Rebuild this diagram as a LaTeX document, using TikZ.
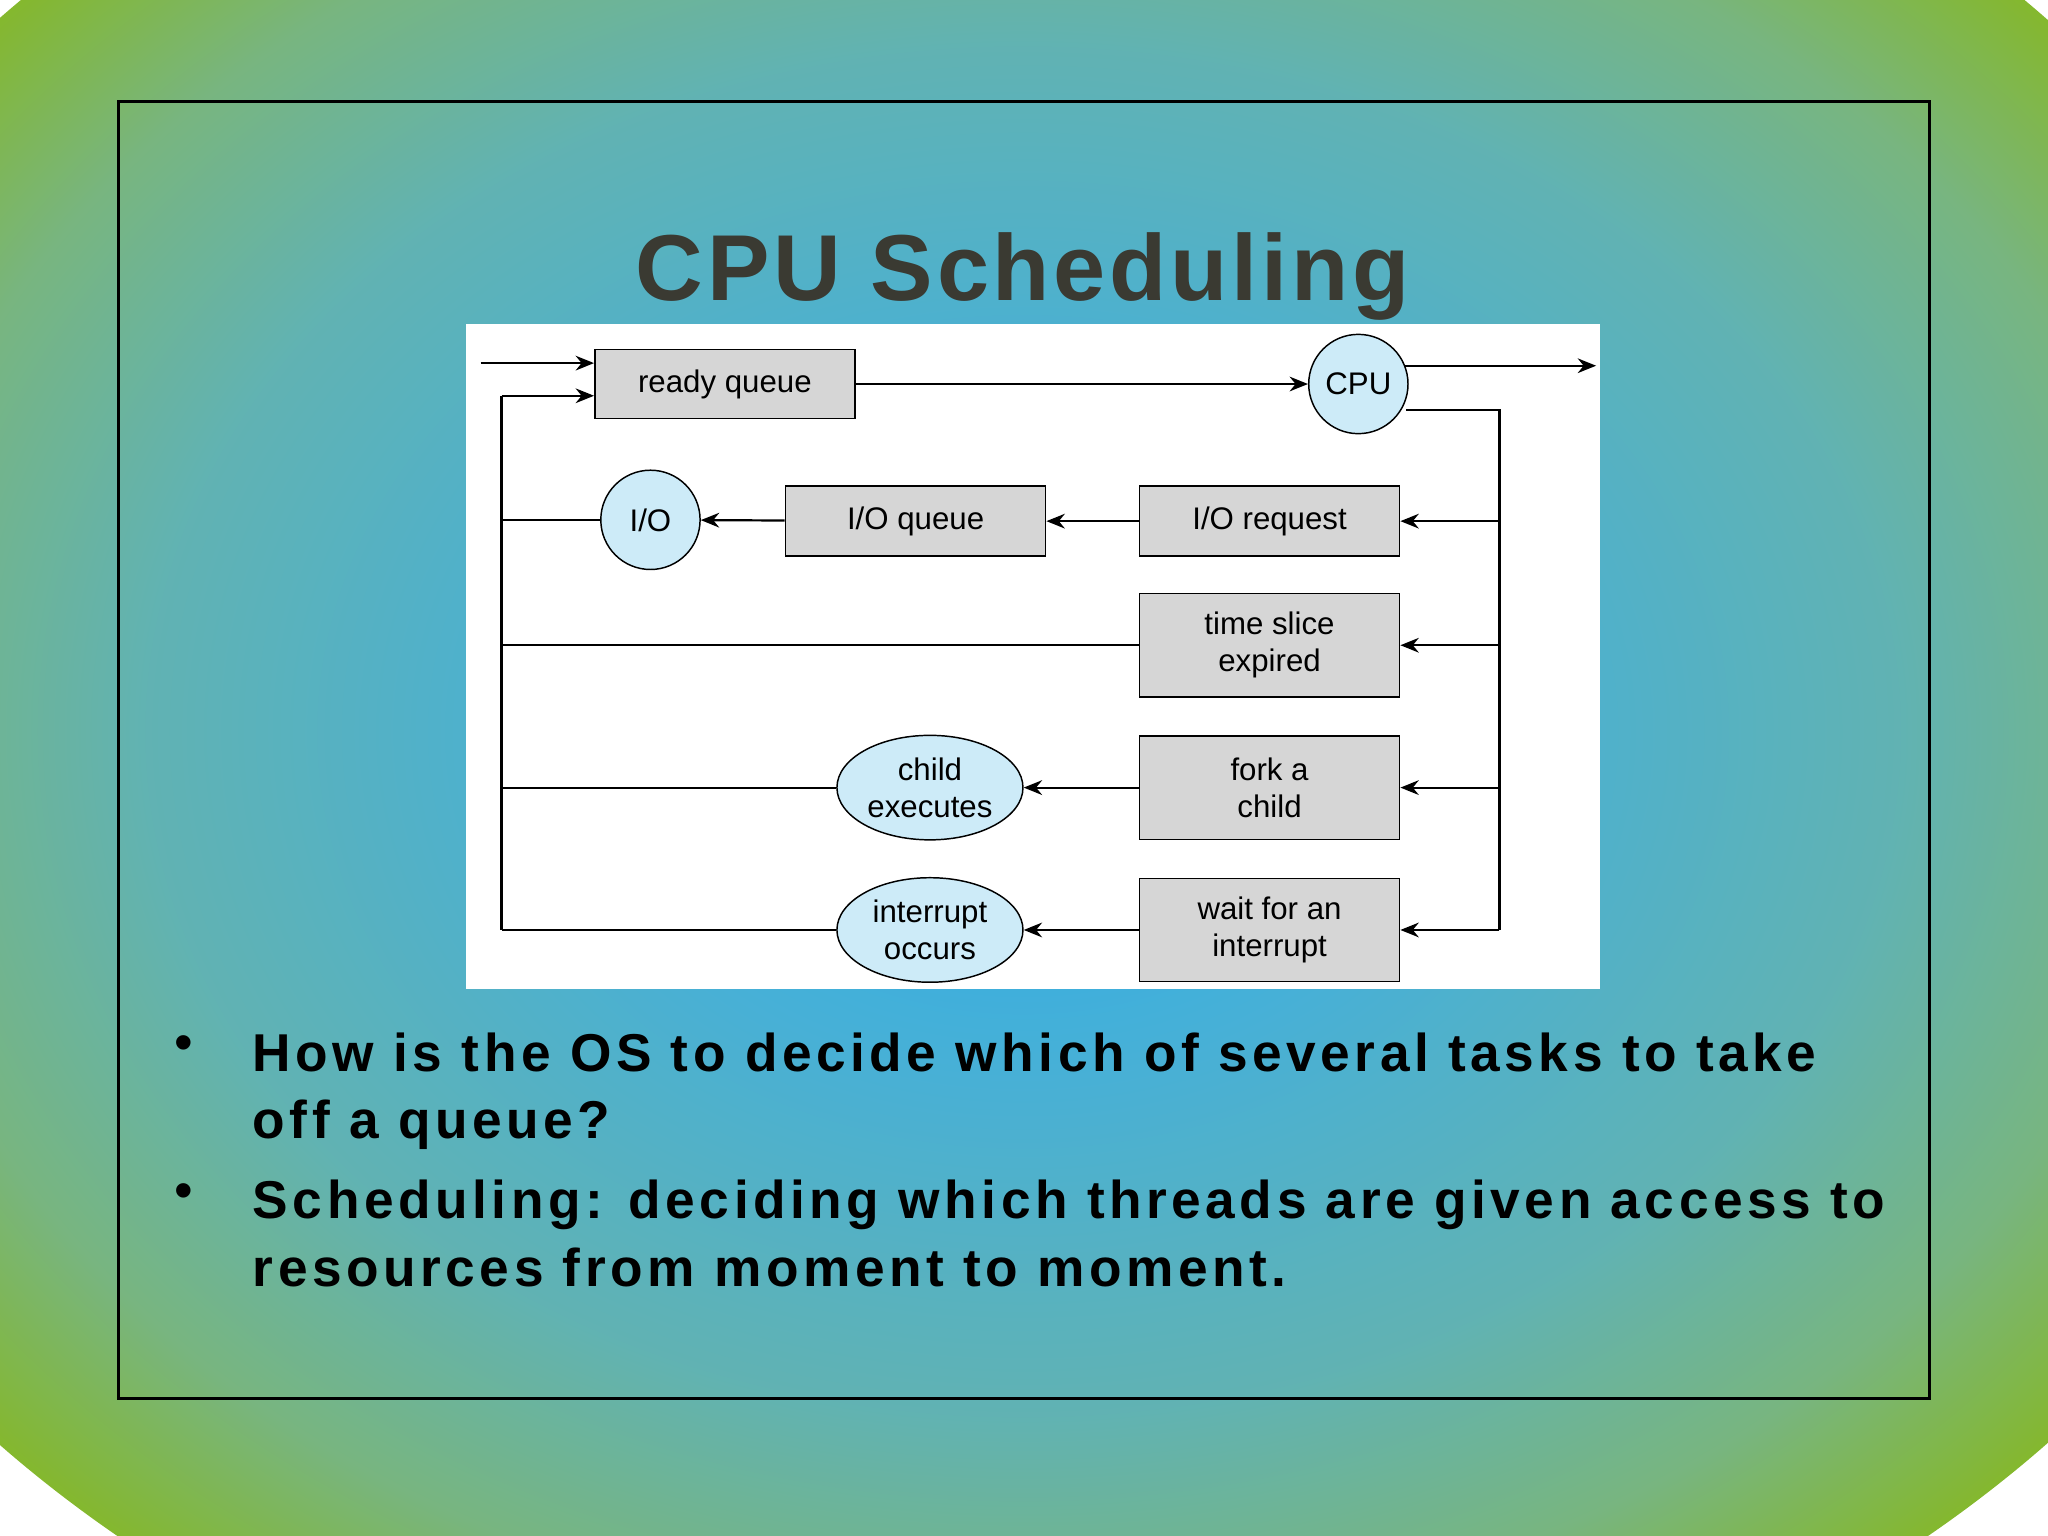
\documentclass[tikz,border=0pt]{standalone}
\usepackage{fontspec}
\setmainfont{Liberation Sans}
\usetikzlibrary{shapes.geometric,arrows.meta}
\definecolor{boxgray}{HTML}{D6D6D6}
\definecolor{bubble}{HTML}{CDEBF8}
\definecolor{titlegray}{HTML}{3A3A32}
\pgfdeclareradialshading{slideglow}{\pgfpoint{0bp}{0bp}}{%
  rgb(0bp)=(0.16,0.68,0.92);
  rgb(8bp)=(0.28,0.69,0.84);
  rgb(16bp)=(0.38,0.70,0.70);
  rgb(21bp)=(0.47,0.71,0.50);
  rgb(25bp)=(0.52,0.72,0.18);
  rgb(50bp)=(0.52,0.72,0.18)}
\tikzset{
  qbox/.style={draw, fill=boxgray, minimum width=2.49cm, align=center,
    font=\fontsize{8.5}{10}\selectfont},
  qcircle/.style={draw, circle, fill=bubble, minimum size=0.95cm, inner sep=0pt,
    font=\fontsize{8.5}{10}\selectfont},
  qellipse/.style={draw, ellipse, fill=bubble, minimum width=1.78cm, minimum height=1cm,
    inner sep=0pt, align=center, font=\fontsize{8.5}{10}\selectfont},
  flow/.style={-{Stealth[length=5pt,width=4pt]}, line width=0.6pt},
  plain/.style={line width=0.6pt},
  bullettext/.style={anchor=base west, inner sep=0pt,
    font=\fontsize{14.5}{17}\bfseries\addfontfeatures{LetterSpace=8.5}}
}
\begin{document}
\begin{tikzpicture}[x=0.0125cm, y=-0.0125cm]
  % background and frame
  \useasboundingbox (0,0) rectangle (1568,1176);
  \begin{scope}
    \clip (0,0) rectangle (1568,1176);
    \shade[shading=slideglow] (783,560) ellipse [x radius=1050, y radius=820];
  \end{scope}
  \draw[line width=0.8pt] (91,78) rectangle (1477,1071);
  \node (title) [text=titlegray, font=\fontsize{25.5}{30}\bfseries\addfontfeatures{LetterSpace=4}]
    at (783,212) {CPU Scheduling};
  \fill[white] (357,248) rectangle (1225,757);

  % queue boxes
  \node (readyQueue) [qbox, minimum height=0.66cm] at (555,294) {ready queue};
  \node (ioQueue) [qbox, minimum height=0.67cm] at (701,399) {I/O queue};
  \node (ioRequest) [qbox, minimum height=0.67cm] at (972,399) {I/O request};
  \node (timeSlice) [qbox, minimum height=0.99cm] at (972,494) {time slice\\expired};
  \node (forkChild) [qbox, minimum height=0.99cm] at (972,603) {fork a\\child};
  \node (waitInt) [qbox, minimum height=0.99cm] at (972,712) {wait for an\\interrupt};
  % devices and events
  \node (cpu) [qcircle] at (1040,294) {CPU};
  \node (io) [qcircle] at (498,398) {I/O};
  \node (childExec) [qellipse] at (712,603) {child\\executes};
  \node (intOccurs) [qellipse] at (712,712) {interrupt\\occurs};

  % connection points
  \coordinate (inStart) at (368,278);
  \coordinate (loopTop) at (384,303);
  \coordinate (loopBottom) at (384,712);
  \coordinate (cpuOut) at (1222,280);
  \coordinate (rightTop) at (1148,314);
  \coordinate (rightBottom) at (1148,712);

  \draw[flow] (inStart) -- (inStart -| readyQueue.west);
  \draw[flow] (loopTop) -- (loopTop -| readyQueue.west);
  \draw[plain] (loopTop) -- (loopBottom);
  \draw[flow] (readyQueue) -- (cpu);
  \draw[flow] (cpuOut -| cpu.east) ++(-3,0) -- (cpuOut);
  \draw[plain] (rightTop -| cpu.east) ++(-2,0) -- (rightTop) -- (rightBottom);

  \draw[flow] (rightTop |- ioRequest) -- (ioRequest);
  \draw[flow] (rightTop |- timeSlice) -- (timeSlice);
  \draw[flow] (rightTop |- forkChild) -- (forkChild);
  \draw[flow] (rightBottom) -- (waitInt);

  \draw[flow] (ioRequest) -- (ioQueue);
  \draw[flow] (ioQueue) -- (io);
  \draw[flow] (forkChild) -- (childExec);
  \draw[flow] (waitInt) -- (intOccurs);

  \draw[plain] (io) -- (loopTop |- io);
  \draw[plain] (timeSlice) -- (loopTop |- timeSlice);
  \draw[plain] (childExec) -- (loopTop |- childExec);
  \draw[plain] (intOccurs) -- (loopBottom);

  % bullets
  \node (dotA) [anchor=base, font=\fontsize{14.5}{17}\selectfont] at (141,812) {•};
  \node (lineA) [bullettext] at (193,820) {How is the OS to decide which of several tasks to take};
  \node (lineB) [bullettext] at (193,872) {off a queue?};
  \node (dotB) [anchor=base, font=\fontsize{14.5}{17}\selectfont] at (141,925) {•};
  \node (lineC) [bullettext] at (193,933) {Scheduling: deciding which threads are given access to};
  \node (lineD) [bullettext] at (193,985) {resources from moment to moment.};
\end{tikzpicture}
\end{document}
